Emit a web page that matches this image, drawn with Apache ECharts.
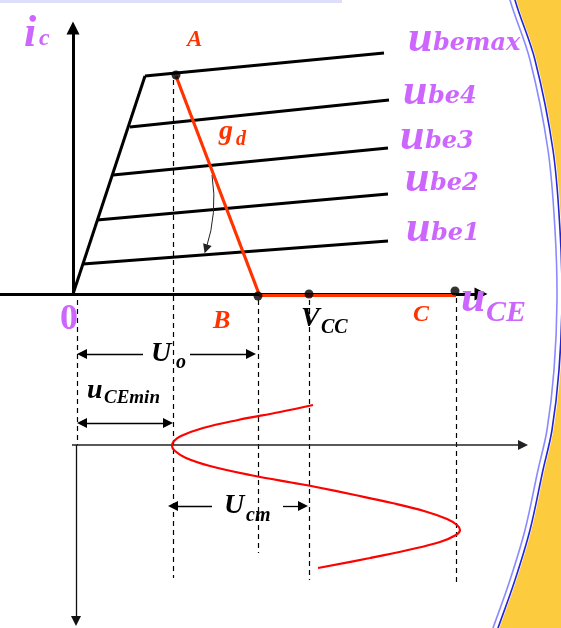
<!DOCTYPE html>
<html><head><meta charset="utf-8">
<script src="https://cdn.jsdelivr.net/npm/echarts@6/dist/echarts.min.js"></script>
<style>html,body{margin:0;padding:0;background:#fff}#c{width:561px;height:628px}</style>
</head><body><div id="c"></div>
<script>
// ---- diagram data (units: u_CE to the right, i_C upward, origin at "0") ----
const saturationLine = [[0, 0], [72, 218]];
const ubeLabels = ['bemax', 'be4', 'be3', 'be2', 'be1'];
const ubeCurves = [
  [[72, 218], [311, 241]],
  [[57, 167], [316, 194]],
  [[40, 119], [315, 146]],
  [[24, 74], [315, 100]],
  [[10, 30], [315, 53]]
];
const loadLine = [[103, 218], [186, 0]];
const cutoffLine = [[186, -1], [383, -1]];
const pointNames = ['A', 'B', 'VCC', 'C'];
const keyPoints = [[103, 219], [185, -2], [236, 0], [382, 3]];
const icAxis = [[0, -1], [0, 266]];
const uceAxis = [[-73, 0], [408, 0]];
const timeAxisH = [[-1, -151], [450, -151]];
const timeAxisV = [[3, -151], [3, -327]];
const guideLines = [
  [[4, -6], [4, -151]],
  [[100, 214], [100, -284]],
  [[185, -6], [185, -259]],
  [[236, -6], [236, -286]],
  [[383, -4], [383, -288]]
];
const dimUo = [[[9, -60], [70, -60]], [[117, -60], [178, -60]]];
const dimUceMin = [[9, -129], [95, -129]];
const dimUcm = [[[100, -212], [139, -212]], [[210, -212], [230, -212]]];
const shiftArrow = [[139, 119], [133, 45]];
const ucWave = [[240, -111], [207, -118], [165, -126], [130, -134], [108, -142], [101, -147], [99, -152],
  [102, -157], [113, -164], [137, -172], [177, -181], [227, -190], [243, -193], [282, -201], [319, -209],
  [351, -217], [374, -225], [384, -231], [387, -236], [383, -241], [367, -248], [335, -256], [297, -264], [245, -274]];
const frameEdge = [[439, 314], [442, 294], [462, 234], [480, 144], [487, 64], [489, -6], [486, -76],
  [479, -136], [470, -176], [457, -236], [442, -286], [425, -334], [417, -356]];

// ---- styles ----
const PURPLE = '#cc66ff', ORANGE = '#ff3300', RED = '#ff0000';
const TNR = '"Liberation Serif", "Times New Roman", serif';
const DJV = '"DejaVu Serif", serif';

function lines(list, color, width, opt) {
  opt = opt || {};
  return {
    type: 'lines', coordinateSystem: 'cartesian2d', polyline: false, silent: true,
    z: opt.z || 3, symbol: opt.symbol || 'none', symbolSize: opt.size || 0,
    lineStyle: { color: color, width: width, type: opt.type || 'solid', curveness: opt.curveness || 0, opacity: 1 },
    data: list.map(c => ({ coords: c })), animation: false
  };
}
function txt(text, x, baseline, size, color, family, style) {
  return {
    type: 'text', x: x, y: baseline - 0.34 * size, z: 50,
    style: { text: text, fill: color, font: (style || 'italic bold') + ' ' + size + 'px ' + family, verticalAlign: 'middle', align: 'left' }
  };
}

const chart = echarts.init(document.getElementById('c'), null, { renderer: 'canvas' });
const option = {
  backgroundColor: '#ffffff',
  animation: false,
  grid: { left: 0, right: 0, top: 0, bottom: 0 },
  xAxis: { type: 'value', min: -73, max: 488, show: false },
  yAxis: { type: 'value', min: -334, max: 294, show: false },
  graphic: { elements: [
    { type: 'rect', shape: { x: 0, y: 0, width: 342, height: 3 }, style: { fill: '#dedefa' }, z: 1 },
    txt('i', 24, 50, 44, PURPLE, TNR), txt('c', 39, 47, 24, PURPLE, TNR),
    txt('A', 187, 48, 23, ORANGE, TNR),
    txt('g', 219, 141, 28, ORANGE, TNR), txt('d', 236, 147, 20, ORANGE, TNR),
    txt('u', 408, 55, 44, PURPLE, TNR), txt(ubeLabels[0], 433, 52, 24, PURPLE, DJV),
    txt('u', 403, 108, 44, PURPLE, TNR), txt(ubeLabels[1], 428, 105, 24, PURPLE, DJV),
    txt('u', 400, 153, 44, PURPLE, TNR), txt(ubeLabels[2], 425, 150, 24, PURPLE, DJV),
    txt('u', 405, 195, 44, PURPLE, TNR), txt(ubeLabels[3], 430, 192, 24, PURPLE, DJV),
    txt('u', 406, 245, 44, PURPLE, TNR), txt(ubeLabels[4], 431, 242, 24, PURPLE, DJV),
    txt('0', 60, 332, 36, PURPLE, TNR, 'bold'),
    txt('B', 213, 330, 26, ORANGE, TNR),
    txt('V', 301, 328, 28, '#000', TNR), txt('CC', 321, 335, 20, '#000', TNR),
    txt('C', 413, 323, 24, ORANGE, TNR),
    txt('u', 461, 315, 44, PURPLE, TNR), txt('CE', 486, 323, 30, PURPLE, TNR),
    txt('U', 151, 363, 28, '#000', TNR), txt('o', 176, 370, 20, '#000', TNR),
    txt('u', 87, 400, 28, '#000', TNR), txt('CEmin', 104, 405, 19, '#000', TNR),
    txt('U', 224, 515, 28, '#000', TNR), txt('cm', 246, 523, 20, '#000', TNR)
  ] },
  series: [
    {
      type: 'custom', coordinateSystem: 'cartesian2d', data: [0], silent: true, z: 0, animation: false,
      renderItem: function (params, api) {
        const pts = frameEdge.map(p => api.coord(p));
        const W = api.getWidth(), H = api.getHeight();
        const fill = pts.map(p => [p[0] + 1.5, p[1]]).concat([[W + 40, H + 40], [W + 40, -40]]);
        return { type: 'group', children: [
          { type: 'polygon', shape: { points: fill, smooth: 0.35 }, style: { fill: '#fdcc3e' } },
          { type: 'polyline', shape: { points: pts.map(p => [p[0] - 5, p[1]]), smooth: 0.35 }, style: { stroke: '#8a8aff', lineWidth: 1.6, fill: null } },
          { type: 'polyline', shape: { points: pts, smooth: 0.35 }, style: { stroke: '#2424d6', lineWidth: 1.6, fill: null } }
        ] };
      }
    },
    lines(guideLines, '#000', 1.2, { type: [5, 4], z: 2 }),
    lines([uceAxis], '#000', 3, { symbol: ['none', 'triangle'], size: 13 }),
    lines([icAxis], '#000', 3, { symbol: ['none', 'triangle'], size: 13 }),
    lines([timeAxisH], '#222', 1.5, { symbol: ['none', 'triangle'], size: 10 }),
    lines([timeAxisV], '#111', 1.3, { symbol: ['none', 'triangle'], size: 10 }),
    lines([saturationLine].concat(ubeCurves), '#000', 3),
    lines([loadLine, cutoffLine], ORANGE, 3.2, { z: 4 }),
    lines([dimUo[0], dimUcm[0]], '#000', 1.3, { symbol: ['triangle', 'none'], size: 10 }),
    lines([dimUo[1], dimUcm[1]], '#000', 1.3, { symbol: ['none', 'triangle'], size: 10 }),
    lines([dimUceMin], '#000', 1.3, { symbol: ['triangle', 'triangle'], size: 10 }),
    lines([shiftArrow], '#222', 1, { symbol: ['none', 'triangle'], size: 9, curveness: 0.12 }),
    {
      type: 'line', data: ucWave, smooth: 0.4, symbol: 'none', silent: true, z: 4,
      lineStyle: { color: RED, width: 2.2 }, animation: false
    },
    {
      type: 'scatter', data: keyPoints.map((p, i) => ({ name: pointNames[i], value: p })),
      symbolSize: 9, itemStyle: { color: '#000' }, silent: true, z: 6, animation: false
    }
  ]
};
chart.setOption(option);
</script>
</body></html>
